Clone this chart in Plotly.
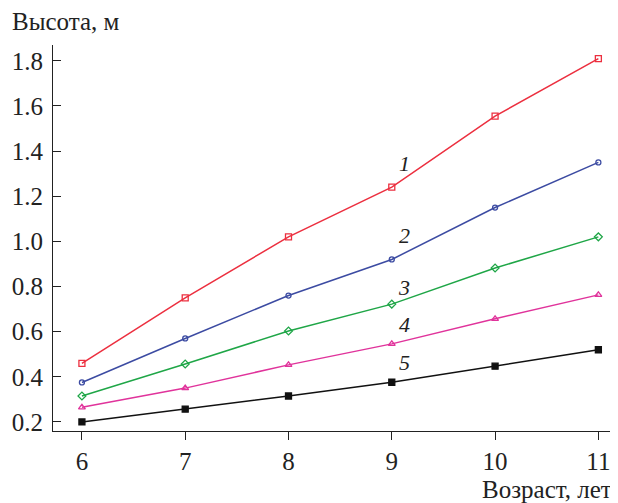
import plotly.graph_objects as go

ages = [6, 7, 8, 9, 10, 11]
s1 = [0.46, 0.75, 1.02, 1.24, 1.555, 1.81]
s2 = [0.375, 0.57, 0.76, 0.92, 1.15, 1.35]
s3 = [0.315, 0.457, 0.603, 0.722, 0.882, 1.02]
s4 = [0.265, 0.35, 0.453, 0.546, 0.657, 0.763]
s5 = [0.2, 0.257, 0.315, 0.376, 0.447, 0.52]

series = [
    ("1", s1, "#ec2f3f", "square-open", 6),
    ("2", s2, "#3c4ba2", "circle-open", 5),
    ("3", s3, "#1fa647", "diamond-open", 6),
    ("4", s4, "#e0339b", "triangle-up-open", 6),
    ("5", s5, "#111111", "square", 6),
]
label_pos = [(9.12, 1.345), (9.12, 1.025), (9.12, 0.795), (9.12, 0.63), (9.12, 0.462)]

yticks = [0.2, 0.4, 0.6, 0.8, 1.0, 1.2, 1.4, 1.6, 1.8]
ytext = ["0.2", "0.4", "0.6", "0.8", "1.0", "1.2", "1.4", "1.6", "1.8"]

FONT = "Liberation Serif"
TXT = "rgb(34,34,34)"

fig = go.Figure()
for name, vals, col, sym, sz in series:
    fig.add_trace(go.Scatter(
        x=ages, y=vals, mode="lines+markers", name=name,
        line=dict(color=col, width=1.5),
        marker=dict(symbol=sym, size=sz, color=col, line=dict(color=col, width=1.3)),
        showlegend=False,
    ))

for (name, *_), (lx, ly) in zip(series, label_pos):
    fig.add_annotation(x=lx, y=ly, text="<i>" + name + "</i>", showarrow=False,
                       font=dict(family=FONT, size=22, color=TXT))

fig.add_annotation(xref="paper", yref="paper", x=-0.076, y=1.02, xanchor="left", yanchor="bottom",
                   text="Высота, м", showarrow=False, font=dict(family=FONT, size=25, color=TXT))
fig.add_annotation(xref="paper", yref="paper", x=0.993, y=-0.112, xanchor="right", yanchor="top",
                   text="Возраст, лет", showarrow=False, font=dict(family=FONT, size=25, color=TXT))

fig.update_layout(
    width=610, height=495,
    margin=dict(l=45, r=0, t=37, b=72),
    paper_bgcolor="white", plot_bgcolor="white",
    xaxis=dict(range=[5.72, 11.19], tickvals=ages, ticktext=[str(a) for a in ages],
               tickfont=dict(family=FONT, size=25, color=TXT),
               showgrid=False, zeroline=False, showline=True, linecolor=TXT, linewidth=1.2,
               ticks="outside", ticklen=8, tickcolor=TXT, tickwidth=1.2, automargin=False),
    yaxis=dict(range=[0.16, 1.87], tickvals=yticks, ticktext=ytext,
               tickfont=dict(family=FONT, size=25, color=TXT),
               showgrid=False, zeroline=False, showline=True, linecolor=TXT, linewidth=1.2,
               ticks="inside", ticklen=8, tickcolor=TXT, tickwidth=1.2, ticklabelstandoff=4,
               automargin=False),
)

fig.write_html("out.html")
